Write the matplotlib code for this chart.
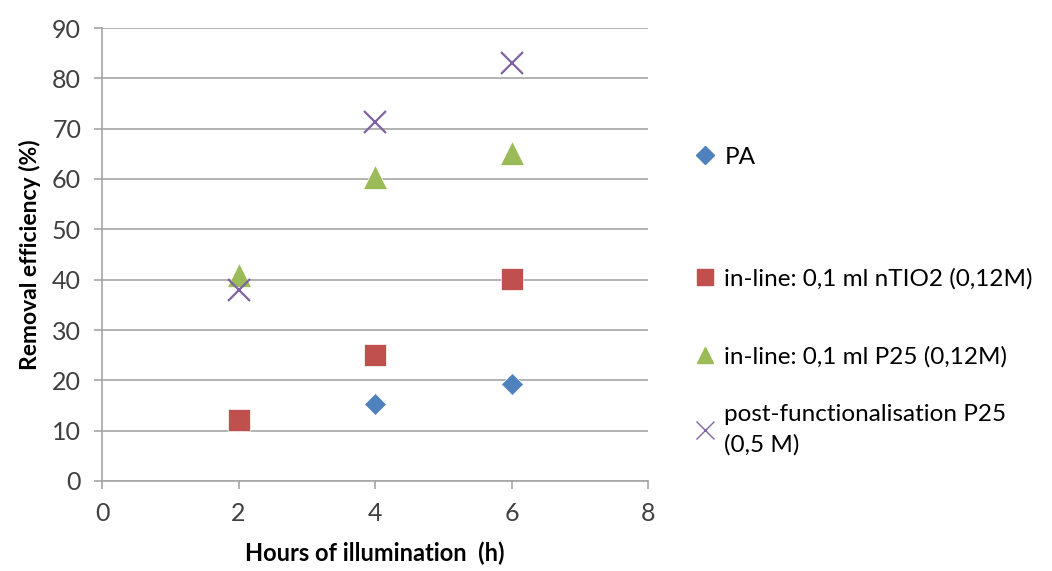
import matplotlib
matplotlib.use("Agg")
import matplotlib.pyplot as plt
from matplotlib.lines import Line2D

plt.rcParams['font.family'] = ['Lato', 'DejaVu Sans']

# --- data ---
hours = [2, 4, 6]
pa = [12, 15.3, 19.3]
nTiO2 = [12.1, 25, 40.1]
p25 = [41, 60.4, 65.2]
post_p25 = [38, 71.3, 83.1]

series = [
    ("PA", pa, 'D', '#4F81BD', 11.5),
    ("in-line: 0,1 ml nTIO2 (0,12M)", nTiO2, 's', '#C0504D', 16.5),
    ("in-line: 0,1 ml P25 (0,12M)", p25, '^', '#9BBB59', 17),
    ("post-functionalisation P25\n(0,5 M)", post_p25, 'x', '#8064A2', 16),
]
legend_y = [157, 279, 357, 430]   # pixel rows of the legend entries

fig = plt.figure(figsize=(10.52, 5.71), dpi=100)
ax = fig.add_axes([102 / 1052, 1 - 481 / 571, 546 / 1052, 453 / 571])

for label, vals, mk, col, ms in series:
    if mk == 'x':
        ax.plot(hours, vals, linestyle='none', marker=mk, color=col,
                markersize=ms, markeredgewidth=1.6, zorder=3)
    else:
        ax.plot(hours, vals, linestyle='none', marker=mk, color=col,
                markersize=ms, markeredgewidth=0.5, markeredgecolor='white', zorder=3)

ax.set_xlim(0, 8)
ax.set_ylim(0, 90)
ax.set_xticks(range(0, 9, 2))
ax.set_yticks(range(0, 91, 10))
ax.grid(axis='y', color='#A6A6A6', linewidth=1.2)
ax.set_axisbelow(True)
for s in ['top', 'right']:
    ax.spines[s].set_visible(False)
for s in ['left', 'bottom']:
    ax.spines[s].set_color('#A6A6A6')
    ax.spines[s].set_linewidth(1.2)
ax.tick_params(axis='both', colors='#A6A6A6', length=6, width=1.2,
               labelsize=18, labelcolor='#404040')
ax.tick_params(axis='y', pad=9)
ax.tick_params(axis='x', pad=9)
ax.set_xlabel('Hours of illumination  (h)', fontsize=17, fontweight='bold', labelpad=12)
ax.set_ylabel('Removal efficiency (%)', fontsize=16.5, fontweight='bold', labelpad=8)

# legend entries placed like the Excel layout
for (label, vals, mk, col, ms), py in zip(series, legend_y):
    if mk == 'x':
        h = Line2D([], [], linestyle='none', marker=mk, color=col, markersize=13, markeredgewidth=1)
    else:
        h = Line2D([], [], linestyle='none', marker=mk, color=col, markersize=12 if mk != 'D' else 9)
    leg = fig.legend(handles=[h], labels=[label], loc='center left',
                     bbox_to_anchor=(683 / 1052, 1 - py / 571), frameon=False,
                     fontsize=17.5, handlelength=0.8, handletextpad=0.4,
                     borderpad=0, labelcolor='#000000')
    leg.get_texts()[0].set_linespacing(1.55)

fig.savefig('out.png', dpi=100, facecolor='white')
